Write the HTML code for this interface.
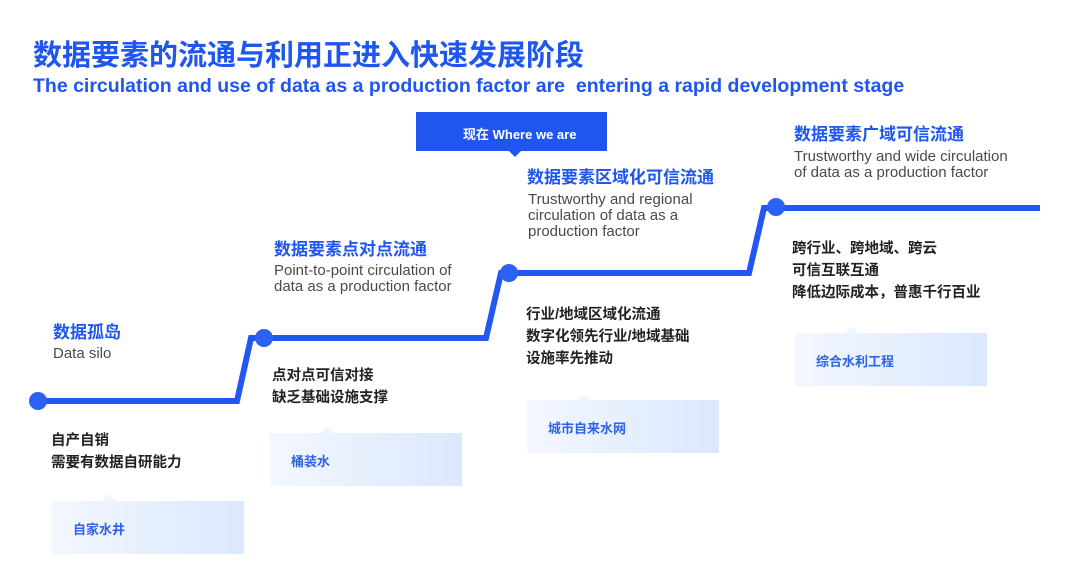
<!DOCTYPE html>
<html><head><meta charset="utf-8"><style>
body{margin:0;width:1080px;height:587px;background:#fff;position:relative;overflow:hidden;font-family:"Liberation Sans","Noto Sans CJK SC",sans-serif;}
.a{position:absolute;white-space:nowrap}
.t{color:#1f56f0;font-weight:bold}
.h{color:#1f56f0;font-weight:bold;font-size:17px}
.e{color:#4a4a4a;font-size:15px;line-height:16px}
.c{color:#222;font-size:14.5px;line-height:22px;font-weight:bold}
.box{position:absolute;width:192px;height:53px;background:linear-gradient(90deg,#f3f7ff,#dbe8fd)}
.box:before{content:"";position:absolute;top:-7px;left:50px;border:7px solid transparent;border-top:0;border-bottom-color:#f1f5ff}
.box span{position:absolute;left:21px;top:18px;color:#2d63e8;font-size:13px;font-weight:bold}
</style></head><body>
<div class="a t" style="left:33px;top:32px;font-size:29px">数据要素的流通与利用正进入快速发展阶段</div>
<div class="a t" style="left:33px;top:75px;font-size:19.5px">The circulation and use of data as a production factor are&nbsp; entering a rapid development stage</div>
<svg class="a" style="left:0;top:0" width="1080" height="587">
<polyline points="38,401 237,401 251,338 486,338 501,273 749,273 764,208 1040,208" fill="none" stroke="#2357f2" stroke-width="6"/>
<circle cx="38" cy="401" r="9" fill="#2c62f3"/><circle cx="264" cy="338" r="9" fill="#2c62f3"/>
<circle cx="509" cy="273" r="9" fill="#2c62f3"/><circle cx="776" cy="207" r="9" fill="#2c62f3"/>
<rect x="416" y="112" width="191" height="39" fill="#1f56f0"/><polygon points="509,151 521,151 515,157" fill="#1f56f0"/>
</svg>
<div class="a" style="left:463px;top:124px;color:#fff;font-size:13px;font-weight:bold">现在 Where we are</div>
<div class="a h" style="left:53px;top:318px">数据孤岛</div>
<div class="a e" style="left:53px;top:346px">Data silo</div>
<div class="a c" style="left:51px;top:430px">自产自销<br>需要有数据自研能力</div>
<div class="box" style="left:52px;top:501px"><span>自家水井</span></div>
<div class="a h" style="left:274px;top:235px">数据要素点对点流通</div>
<div class="a e" style="left:274px;top:263px">Point-to-point circulation of<br>data as a production factor</div>
<div class="a c" style="left:272px;top:365px">点对点可信对接<br>缺乏基础设施支撑</div>
<div class="box" style="left:270px;top:433px"><span>桶装水</span></div>
<div class="a h" style="left:527px;top:163px">数据要素区域化可信流通</div>
<div class="a e" style="left:528px;top:192px">Trustworthy and regional<br>circulation of data as a<br>production factor</div>
<div class="a c" style="left:526px;top:304px">行业/地域区域化流通<br>数字化领先行业/地域基础<br>设施率先推动</div>
<div class="box" style="left:527px;top:400px"><span>城市自来水网</span></div>
<div class="a h" style="left:794px;top:120px">数据要素广域可信流通</div>
<div class="a e" style="left:794px;top:149px">Trustworthy and wide circulation<br>of data as a production factor</div>
<div class="a c" style="left:792px;top:238px">跨行业、跨地域、跨云<br>可信互联互通<br>降低边际成本，普惠千行百业</div>
<div class="box" style="left:795px;top:333px"><span>综合水利工程</span></div>
</body></html>
